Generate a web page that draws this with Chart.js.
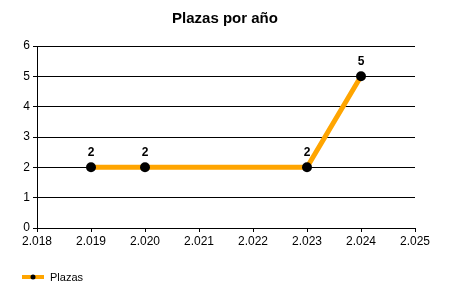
<!DOCTYPE html>
<html>
<head>
<meta charset="utf-8">
<script src="https://cdn.jsdelivr.net/npm/chart.js@4/dist/chart.umd.min.js"></script>
<style>
  html, body { margin: 0; padding: 0; background: #fff; }
  #wrap { width: 450px; height: 300px; }
</style>
</head>
<body>
<div id="wrap"><canvas id="chart" width="450" height="300"></canvas></div>
<script>
const YEARS = [2019, 2020, 2023, 2024];
const PLAZAS = [2, 2, 2, 5];
const SERIES_NAME = "Plazas";
const TITLE = "Plazas por año";
const FONT = "'Liberation Sans', Arial, sans-serif";

// "2.018" style labels
function fmtYear(v) {
    let s = String(Math.round(v));
    return s.slice(0, 1) + "." + s.slice(1);
}

// value labels above the points
const pointLabels = {
    id: "pointLabels",
    afterDatasetsDraw(chart) {
        let ctx = chart.ctx;
        let meta = chart.getDatasetMeta(0);
        ctx.save();
        ctx.font = "bold 12px " + FONT;
        ctx.fillStyle = "#000";
        ctx.textAlign = "center";
        ctx.textBaseline = "bottom";
        meta.data.forEach((pt, i) => {
            ctx.fillText(String(PLAZAS[i]), pt.x, pt.y - 9);
        });
        ctx.restore();
    }
};

// legend at the bottom left: orange line with a black dot
const bottomLegend = {
    id: "bottomLegend",
    afterDraw(chart) {
        let ctx = chart.ctx;
        let y = 277;
        ctx.save();
        ctx.strokeStyle = "orange";
        ctx.lineWidth = 4;
        ctx.beginPath();
        ctx.moveTo(22, y);
        ctx.lineTo(44, y);
        ctx.stroke();
        ctx.fillStyle = "#000";
        ctx.beginPath();
        ctx.arc(33, y, 2.5, 0, Math.PI * 2);
        ctx.fill();
        ctx.font = "11px " + FONT;
        ctx.textAlign = "left";
        ctx.textBaseline = "middle";
        ctx.fillText(SERIES_NAME, 50, y + 0.5);
        ctx.restore();
    }
};

let chart = new Chart(document.getElementById("chart"), {
    type: "line",
    data: {
        datasets: [{
            label: SERIES_NAME,
            data: YEARS.map((x, i) => ({ x: x, y: PLAZAS[i] })),
            borderColor: "orange",
            borderWidth: 5,
            pointRadius: 5,
            pointHoverRadius: 5,
            pointBackgroundColor: "#000",
            pointBorderWidth: 0,
            tension: 0,
            clip: false
        }]
    },
    options: {
        responsive: false,
        animation: false,
        events: [],
        layout: { padding: { top: 0, left: 0, right: 0, bottom: 0 } },
        plugins: {
            legend: { display: false },
            tooltip: { enabled: false },
            title: {
                display: true,
                text: TITLE,
                color: "#000",
                font: { family: FONT, size: 15, weight: "bold" },
                padding: { top: 10, bottom: 18 }
            }
        },
        scales: {
            x: {
                type: "linear",
                min: 2018,
                max: 2025,
                afterFit: s => { s.height = 72; },
                border: { display: true, color: "#000", width: 1 },
                grid: { drawOnChartArea: false, drawTicks: true, tickLength: 4, color: "#000" },
                ticks: {
                    stepSize: 1,
                    color: "#000",
                    padding: 2,
                    maxRotation: 0,
                    font: { family: FONT, size: 12 },
                    callback: v => fmtYear(v)
                }
            },
            y: {
                min: 0,
                max: 6,
                afterFit: s => { s.width = 37; },
                border: { display: true, color: "#000", width: 1 },
                grid: { color: "#000", tickLength: 4 },
                ticks: {
                    stepSize: 1,
                    color: "#000",
                    padding: 3,
                    font: { family: FONT, size: 12 }
                }
            },
            y2: {
                position: "right",
                display: true,
                afterFit: s => { s.width = 35; },
                border: { display: false },
                grid: { display: false },
                ticks: { display: false }
            }
        }
    },
    plugins: [pointLabels, bottomLegend]
});
</script>
</body>
</html>
